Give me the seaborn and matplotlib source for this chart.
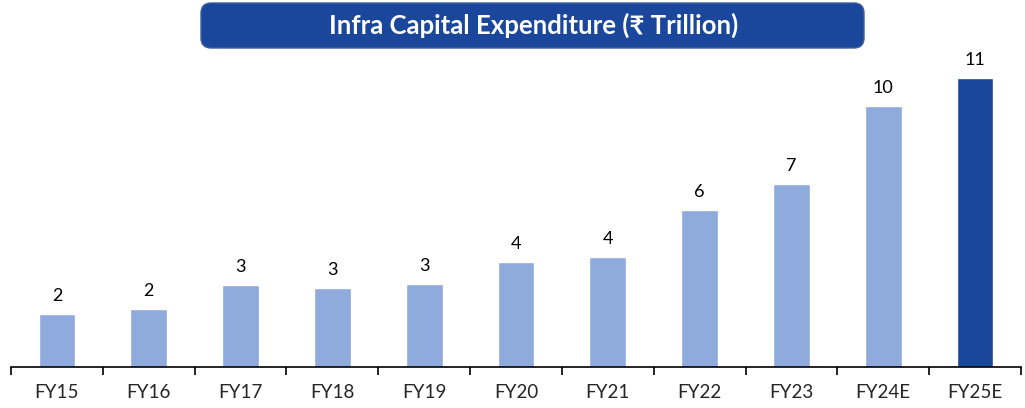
import numpy as np
import pandas as pd
import matplotlib
matplotlib.use("Agg")
import matplotlib.pyplot as plt
from matplotlib.patches import FancyBboxPatch
from matplotlib.transforms import IdentityTransform
import seaborn as sns

years = ["FY15", "FY16", "FY17", "FY18", "FY19", "FY20", "FY21", "FY22", "FY23", "FY24E", "FY25E"]
capex = [2.04, 2.23, 3.15, 3.04, 3.19, 4.04, 4.23, 6.04, 7.04, 10.04, 11.11]
labels = ["2", "2", "3", "3", "3", "4", "4", "6", "7", "10", "11"]
colors = ["#8faadc"] * 10 + ["#1a469c"]

sns.set_theme(style="white")
plt.rcParams["font.family"] = ["Lato", "DejaVu Sans"]

df = pd.DataFrame({"year": years, "capex": capex})

W, H = 1025, 408
fig = plt.figure(figsize=(W / 100, H / 100), dpi=100)
ax = fig.add_axes([11 / W, 1 - 367 / H, 1010 / W, 312 / H])

sns.barplot(data=df, x="year", y="capex", hue="year", palette=colors,
            width=0.4, legend=False, ax=ax, saturation=1)

for cont, lab in zip(ax.containers, labels):
    ax.bar_label(cont, labels=[lab], padding=7, fontsize=13, color="black")

ax.set_xlim(-0.5, len(years) - 0.5)
ax.set_ylim(0, 12)
ax.set_xlabel("")
ax.set_ylabel("")
ax.set_yticks([])
for s in ["top", "right", "left"]:
    ax.spines[s].set_visible(False)
ax.spines["bottom"].set_color("black")
ax.spines["bottom"].set_linewidth(1.2)

ax.set_xticks(range(len(years)))
ax.set_xticklabels(years, fontsize=13.5)
ax.tick_params(axis="x", which="major", length=0, pad=12)
ax.set_xticks(np.arange(-0.5, len(years), 1.0), minor=True)
ax.tick_params(axis="x", which="minor", length=6, width=1.2, color="black", direction="out", bottom=True)

# title box (pixel coordinates)
box = FancyBboxPatch((201, H - 48), 663, 45,
                     boxstyle="round,pad=0,rounding_size=10",
                     transform=IdentityTransform(), facecolor="#1a469c",
                     edgecolor="#3d5f9e", linewidth=1)
fig.patches.append(box)
fig.text(534 / W, 1 - 25 / H, "Infra Capital Expenditure (₹ Trillion)",
         ha="center", va="center", color="white", fontsize=18.5, fontweight="bold")

fig.savefig("out.png", dpi=100)
